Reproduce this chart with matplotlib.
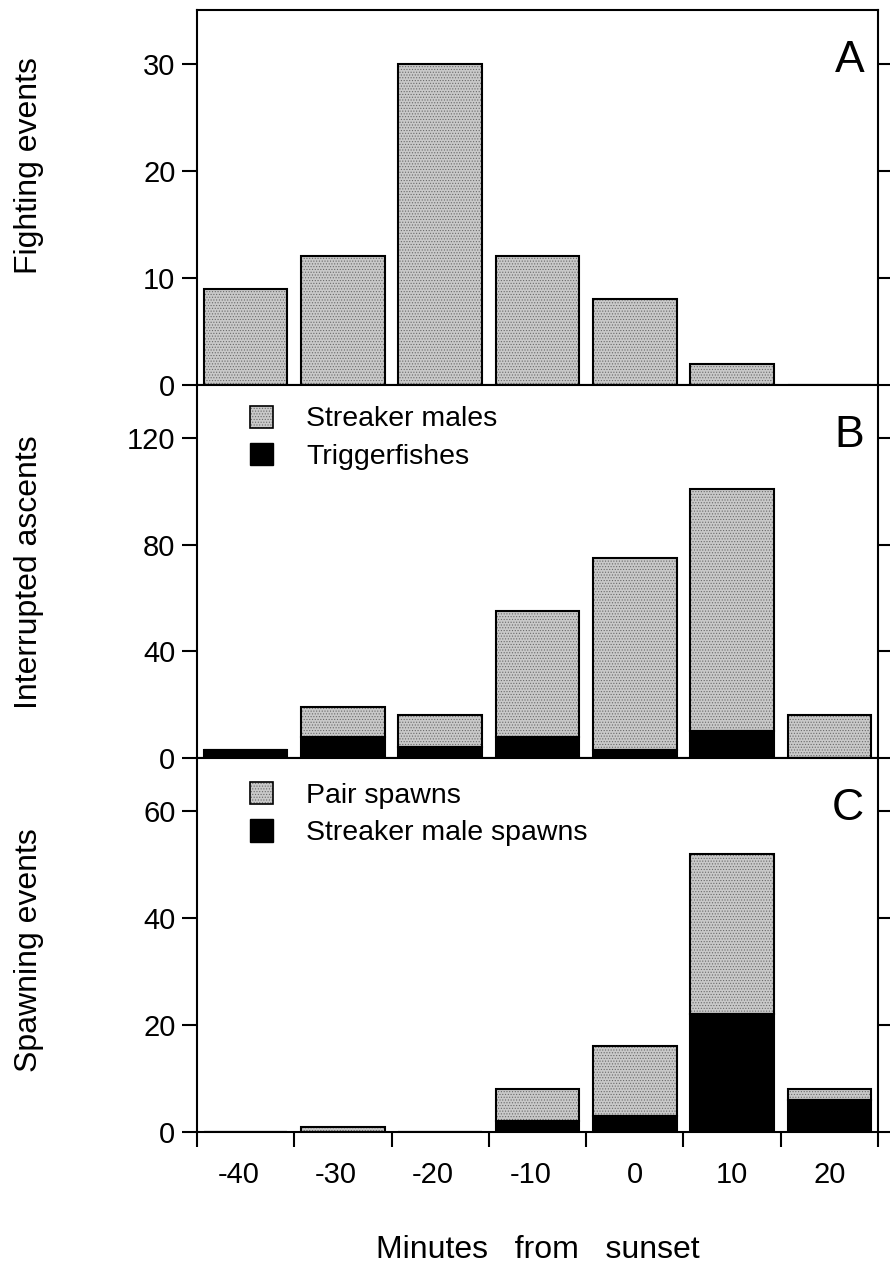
import matplotlib
matplotlib.use("Agg")
import matplotlib.pyplot as plt
from matplotlib.patches import Patch
from matplotlib.transforms import ScaledTranslation

plt.rcParams["font.family"] = ["Liberation Sans", "DejaVu Sans"]
plt.rcParams["hatch.color"] = "#6a6a6a"
plt.rcParams["hatch.linewidth"] = 0.5

# Time bins (minutes from sunset), bin centres and edges
minutes = [-40, -30, -20, -10, 0, 10, 20]
bin_edges = [-45, -35, -25, -15, -5, 5, 15, 25]

# A: fighting events
fighting = [9, 12, 30, 12, 8, 2, 0]

# B: interrupted ascents, split by interrupter
ascents_streaker = [0, 11, 12, 47, 72, 91, 16]
ascents_trigger = [3, 8, 4, 8, 3, 10, 0]

# C: spawning events
spawns_pair = [0, 1, 0, 6, 13, 30, 2]
spawns_streaker = [0, 0, 0, 2, 3, 22, 6]

GRAY = "#c9c9c9"
HATCH = "......"
BAR_W = 8.6
LW = 1.5


def gray_bars(ax, x, h, bottom=None):
    ax.bar(x, h, width=BAR_W, bottom=bottom, color=GRAY, hatch=HATCH,
           linewidth=0, zorder=2)
    ax.bar(x, h, width=BAR_W, bottom=bottom, fill=False, edgecolor="black",
           linewidth=LW, zorder=3)


def black_bars(ax, x, h):
    ax.bar(x, h, width=BAR_W, color="black", edgecolor="black",
           linewidth=LW, zorder=3)


def style(ax, ymax, yticks, label, label_y, letter):
    ax.set_xlim(bin_edges[0], bin_edges[-1])
    ax.set_ylim(0, ymax)
    ax.set_yticks(yticks)
    for s in ax.spines.values():
        s.set_linewidth(LW)
    ax.tick_params(axis="y", direction="out", left=True, right=True,
                   length=10.5, width=LW, labelsize=21, pad=5)
    ax.set_ylabel(label, fontsize=23)
    ax.yaxis.label.set_va("center")
    ax.yaxis.set_label_coords(-0.246, label_y)
    ax.text(0.98, 0.835, letter, transform=ax.transAxes, ha="right",
            va="baseline", fontsize=32)


def legend(ax, labels, top):
    handles = [(Patch(facecolor=GRAY, hatch=HATCH),
                Patch(fill=False, edgecolor="black", linewidth=1.2)),
               Patch(facecolor="black", edgecolor="black")]
    ax.legend(handles, labels, loc="upper left",
              bbox_to_anchor=(0.0778, top), frameon=False, fontsize=20.5,
              handlelength=0.82, handleheight=0.82, handletextpad=1.15,
              labelspacing=0.36, borderpad=0, borderaxespad=0)


fig = plt.figure(figsize=(8.9, 12.71), dpi=100)
L, W = 0.2213, 0.7652
axA = fig.add_axes([L, 0.6971, W, 0.2950])
axB = fig.add_axes([L, 0.4036, W, 0.2935])
axC = fig.add_axes([L, 0.1094, W, 0.2943])

# A
gray_bars(axA, minutes, fighting)
style(axA, 35, [0, 10, 20, 30], "Fighting events", 0.584, "A")

# B
black_bars(axB, minutes, ascents_trigger)
gray_bars(axB, minutes, ascents_streaker, bottom=ascents_trigger)
style(axB, 140, [0, 40, 80, 120], "Interrupted ascents", 0.499, "B")
legend(axB, ["Streaker males", "Triggerfishes"], 0.945)

# C
black_bars(axC, minutes, spawns_streaker)
gray_bars(axC, minutes, spawns_pair, bottom=spawns_streaker)
style(axC, 70, [0, 20, 40, 60], "Spawning events", 0.487, "C")
legend(axC, ["Pair spawns", "Streaker male spawns"], 0.935)

for ax in (axA, axB):
    ax.tick_params(axis="x", which="both", bottom=False, labelbottom=False)

axC.set_xticks(bin_edges)
axC.set_xticklabels([])
axC.set_xticks(minutes, minor=True)
axC.set_xticklabels([str(m) for m in minutes], minor=True)
axC.tick_params(axis="x", which="major", direction="out", length=10.5,
                width=LW)
axC.tick_params(axis="x", which="minor", length=0, labelsize=21, pad=21)
# negative labels hang their minus sign to the left of the centred digits
shift = ScaledTranslation(-7 / 100, 0, fig.dpi_scale_trans)
for m, lab in zip(minutes, axC.get_xticklabels(minor=True)):
    if m < 0:
        lab.set_transform(lab.get_transform() + shift)
axC.set_xlabel("Minutes   from   sunset", fontsize=23)
axC.xaxis.label.set_va("center")
axC.xaxis.set_label_coords(0.5, -0.3155)

fig.savefig("out.png", dpi=100)
